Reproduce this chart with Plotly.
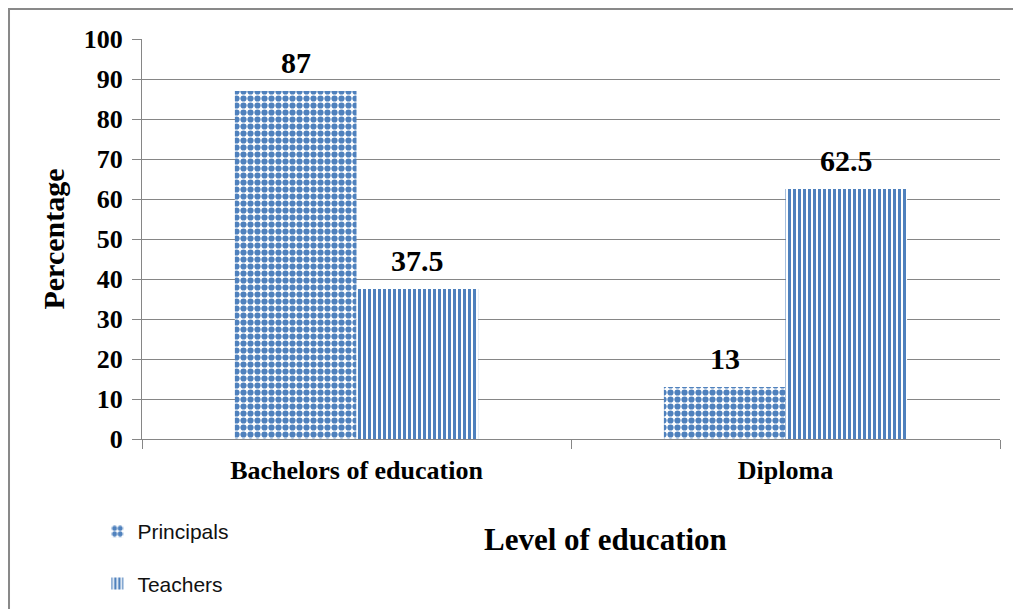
import plotly.graph_objects as go

categories = ["Bachelors of education", "Diploma"]
principals = [87, 13]
teachers = [37.5, 62.5]
series_names = ["Principals", "Teachers"]
y_ticks = [0, 10, 20, 30, 40, 50, 60, 70, 80, 90, 100]

BLUE = "#4F81BD"
GRID = "#868686"
SERIF = "Liberation Serif, Times New Roman, serif"

fig = go.Figure()
fig.add_trace(go.Bar(
    x=categories, y=principals, name=series_names[0], legendgroup="p",
    marker=dict(color="white", line=dict(width=0),
                pattern=dict(shape=".", size=7, solidity=0.62, fgcolor=BLUE,
                             bgcolor="white", fillmode="replace")),
))
fig.add_trace(go.Bar(
    x=categories, y=teachers, name=series_names[1], legendgroup="t",
    marker=dict(color="white", line=dict(width=0),
                pattern=dict(shape="|", size=5, solidity=0.6, fgcolor=BLUE,
                             bgcolor="white", fillmode="replace")),
))

# data labels
for vals, shift in ((principals, -61), (teachers, 61)):
    for c, v in zip(categories, vals):
        fig.add_annotation(x=c, y=v, xref="x", yref="y", text=f"{v:g}",
                           showarrow=False, yanchor="bottom", xshift=shift, yshift=10,
                           font=dict(family=SERIF, size=30, color="black", weight="bold"))

# x axis title as annotation
fig.add_annotation(x=0.54, y=-0.30, xref="paper", yref="paper",
                   text="Level of education", showarrow=False,
                   font=dict(family=SERIF, size=31, color="black", weight="bold"))

# outer border (partially visible)
fig.add_shape(type="rect", xref="paper", yref="paper",
              x0=-0.155, x1=1.05, y0=-0.5, y1=1.075,
              line=dict(color="#898989", width=2), layer="below")

fig.update_layout(
    width=1021, height=609,
    margin=dict(l=134, r=29, t=31, b=178),
    paper_bgcolor="white", plot_bgcolor="white",
    barmode="group", bargap=0.433, bargroupgap=0,
    showlegend=True,
    legend=dict(x=-0.052, y=-0.18, xanchor="left", yanchor="top",
                traceorder="grouped", tracegroupgap=22, borderwidth=0,
                font=dict(family="Liberation Sans, Arial, sans-serif", size=21, color="#111")),
    xaxis=dict(type="category", showline=True, linecolor=GRID, linewidth=1,
               ticks="outside", tickson="boundaries", ticklen=9, tickcolor=GRID,
               ticklabelstandoff=8,
               tickfont=dict(family=SERIF, size=26, color="black", weight="bold"),
               showgrid=False),
    yaxis=dict(range=[0, 100], tickvals=y_ticks, showline=True, linecolor=GRID,
               linewidth=1, ticks="outside", ticklen=9, tickcolor=GRID,
               ticklabelstandoff=4,
               showgrid=True, gridcolor=GRID, gridwidth=1, zeroline=False,
               tickfont=dict(family=SERIF, size=26, color="black", weight="bold"),
               title=dict(text="Percentage", standoff=10,
                          font=dict(family=SERIF, size=30, color="black", weight="bold"))),
)

fig.write_html("out.html")
